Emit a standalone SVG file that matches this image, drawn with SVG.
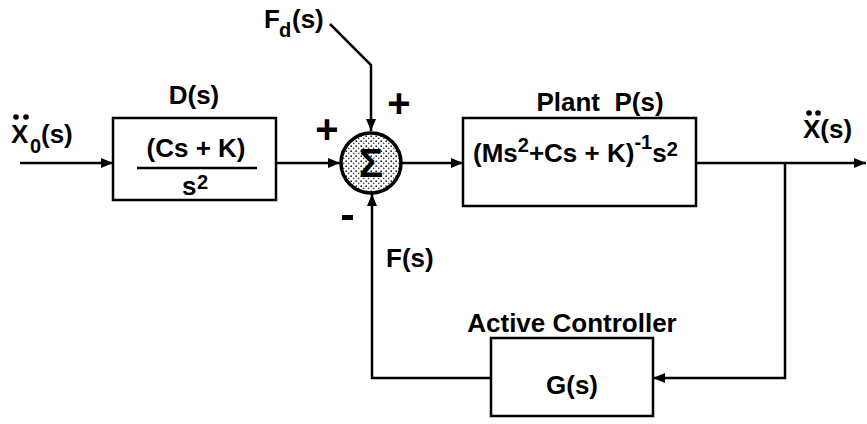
<svg xmlns="http://www.w3.org/2000/svg" width="867" height="424" viewBox="0 0 867 424">
<style>
text{font-family:"Liberation Sans",Arial,sans-serif;font-weight:bold;fill:#000}
.box{fill:#fff;stroke:#000;stroke-width:2.5}
.ln{fill:none;stroke:#000;stroke-width:2.5}
.t{font-size:26px}
.s{font-size:20px}
.pm{font-size:40px}
</style>
<defs>
<marker id="ah" viewBox="0 0 12 10" refX="12" refY="5" markerWidth="12" markerHeight="10" markerUnits="userSpaceOnUse" orient="auto">
<path d="M0,0 L12,5 L0,10 Z" fill="#000"/>
</marker>
<pattern id="spk" width="5" height="5" patternUnits="userSpaceOnUse">
<rect width="5" height="5" fill="#fff"/>
<circle cx="1.2" cy="1.2" r="0.9" fill="#222"/>
<circle cx="3.7" cy="3.4" r="0.8" fill="#444"/>
</pattern>
</defs>
<rect width="867" height="424" fill="#fff"/>
<g id="connectors">
<path class="ln" d="M20,163 H113" marker-end="url(#ah)"/>
<path class="ln" d="M277,163 H340" marker-end="url(#ah)"/>
<path class="ln" d="M402,163 H463" marker-end="url(#ah)"/>
<path class="ln" d="M330,24 L371,65 V131" marker-end="url(#ah)"/>
<path class="ln" d="M696,163 H866" marker-end="url(#ah)"/>
<path class="ln" d="M785,163 V378 H653" marker-end="url(#ah)"/>
<path class="ln" d="M491,378 H372 V194" marker-end="url(#ah)"/>
</g>
<g id="input-label">
<text class="t" x="11" y="143">X</text>
<circle cx="16" cy="117" r="2.8"/><circle cx="26" cy="117" r="2.8"/>
<text class="s" x="30" y="153">0</text>
<text class="t" x="41" y="143">(s)</text>
</g>
<g id="D">
<text class="t" x="194" y="104" text-anchor="middle">D(s)</text>
<rect class="box" x="113" y="118" width="163" height="82"/>
<text class="t" x="196" y="157" text-anchor="middle">(Cs + K)</text>
<line class="ln" x1="137" y1="168" x2="257" y2="168"/>
<text class="t" x="182" y="195">s</text>
<text class="s" x="197" y="189">2</text>
</g>
<g id="sum">
<circle cx="371" cy="163" r="30" fill="url(#spk)" stroke="#000" stroke-width="3.5"/>
<text x="371" y="177" text-anchor="middle" font-size="40">Σ</text>
<text class="pm" x="399" y="117" text-anchor="middle">+</text>
<text class="pm" x="327" y="143" text-anchor="middle">+</text>
<rect x="342" y="215" width="11" height="5"/>
</g>
<g id="Fd">
<text class="t" x="264" y="28">F</text>
<text class="s" x="279" y="37">d</text>
<text class="t" x="292" y="28">(s)</text>
</g>
<g id="Plant">
<text class="t" x="600" y="111" text-anchor="middle" xml:space="preserve">Plant  P(s)</text>
<rect class="box" x="463" y="118" width="233" height="88"/>
<text class="t" x="473" y="162">(Ms<tspan class="s" dy="-10">2</tspan><tspan dy="10">+Cs + K)</tspan><tspan class="s" dy="-13">-1</tspan><tspan dy="13">s</tspan><tspan class="s" dy="-6">2</tspan></text>
</g>
<g id="output-label">
<text class="t" x="803" y="138">X(s)</text>
<circle cx="809" cy="113" r="2.8"/><circle cx="818" cy="113" r="2.8"/>
</g>
<g id="F">
<text class="t" x="386" y="267">F(s)</text>
</g>
<g id="G">
<text class="t" x="572" y="332" text-anchor="middle">Active Controller</text>
<rect class="box" x="491" y="338" width="162" height="78"/>
<text class="t" x="572" y="394" text-anchor="middle">G(s)</text>
</g>
</svg>
